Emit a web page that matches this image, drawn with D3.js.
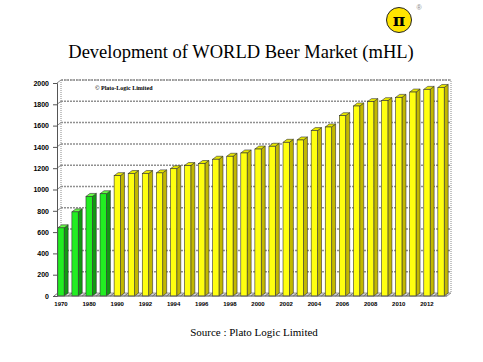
<!DOCTYPE html>
<html>
<head>
<meta charset="utf-8">
<script src="https://cdn.jsdelivr.net/npm/d3@7"></script>
<style>
  body { margin: 0; background: #fff; }
  svg { display: block; }
</style>
</head>
<body>
<svg id="chart" width="483" height="362"></svg>
<script>
// Data
const years = ["1970", "1975", "1980", "1985", "1990", "1991", "1992", "1993", "1994", "1995",
  "1996", "1997", "1998", "1999", "2000", "2001", "2002", "2003", "2004", "2005",
  "2006", "2007", "2008", "2009", "2010", "2011", "2012", "2013"];
const volumes = [640, 790, 935, 960, 1130, 1150, 1150, 1156, 1195, 1225,
  1244, 1284, 1312, 1343, 1380, 1406, 1443, 1465, 1553, 1587,
  1693, 1784, 1825, 1834, 1865, 1915, 1940, 1958];
const greenYears = ["1970", "1975", "1980", "1985"];
const yTicks = [0, 200, 400, 600, 800, 1000, 1200, 1400, 1600, 1800, 2000];
const xLabels = ["1970", "1980", "1990", "1992", "1994", "1996", "1998", "2000", "2002", "2004", "2006", "2008", "2010", "2012"];

const svg = d3.select("#chart");

// 3D depth offset
const dx = 4, dy = -3;

const x = d3.scaleBand()
    .domain(years)
    .range([55, 447])
    .paddingInner(0.55)
    .paddingOuter(0.2);

const y = d3.scaleLinear()
    .domain([0, 2000])
    .range([296, 83]);

const x0 = 57, x1 = 447;

// Back wall gridlines
const grid = svg.append("g");
grid.selectAll("line")
    .data(yTicks.slice(1))
    .enter()
    .append("line")
    .attr("x1", x0 + dx)
    .attr("x2", x1 + dx)
    .attr("y1", d => y(d) + dy)
    .attr("y2", d => y(d) + dy)
    .attr("stroke", "#909090")
    .attr("stroke-width", 1.5)
    .attr("stroke-dasharray", "2,1");

// back wall frame
grid.append("path")
    .attr("d", `M${x0 + dx},${y(0) + dy} L${x0 + dx},${y(2000) + dy} L${x1 + dx},${y(2000) + dy} L${x1 + dx},${y(0) + dy}`)
    .attr("fill", "none")
    .attr("stroke", "#8a8a8a")
    .attr("stroke-dasharray", "1,1");

// left wall gridline stubs
grid.selectAll(".stub")
    .data(yTicks)
    .enter()
    .append("line")
    .attr("x1", x0)
    .attr("x2", x0 + dx)
    .attr("y1", d => y(d))
    .attr("y2", d => y(d) + dy)
    .attr("stroke", "#8a8a8a");

// floor
svg.append("path")
    .attr("d", `M${x0},${y(0)} L${x1},${y(0)} L${x1 + dx},${y(0) + dy} L${x0 + dx},${y(0) + dy} Z`)
    .attr("fill", "#d8d8d8")
    .attr("stroke", "#8a8a8a")
    .attr("stroke-width", 0.8);

// floor category ticks
svg.append("g").selectAll("line")
    .data(years)
    .enter()
    .append("line")
    .attr("x1", d => x(d) - (x.step() - x.bandwidth()) / 2)
    .attr("x2", d => x(d) - (x.step() - x.bandwidth()) / 2 + dx)
    .attr("y1", y(0))
    .attr("y2", y(0) + dy)
    .attr("stroke", "#777");

// Bars
const colors = d => greenYears.includes(d.year)
    ? { front: "#22ee22", side: "#119911", top: "#66ff44" }
    : { front: "#ffff10", side: "#c2b800", top: "#e8e800" };

const data = years.map((yr, i) => ({ year: yr, value: volumes[i] }));
const bars = svg.append("g").selectAll("g")
    .data(data)
    .enter()
    .append("g");

const bw = x.bandwidth();
bars.append("path")
    .attr("d", d => {
        const bx = x(d.year) + bw, by = y(d.value), b0 = y(0);
        return `M${bx},${b0} L${bx},${by} L${bx + dx},${by + dy} L${bx + dx},${b0 + dy} Z`;
    })
    .attr("fill", d => colors(d).side)
    .attr("stroke", "#333")
    .attr("stroke-width", 0.6);

bars.append("path")
    .attr("d", d => {
        const bx = x(d.year), by = y(d.value);
        return `M${bx},${by} L${bx + dx},${by + dy} L${bx + bw + dx},${by + dy} L${bx + bw},${by} Z`;
    })
    .attr("fill", d => colors(d).top)
    .attr("stroke", "#333")
    .attr("stroke-width", 0.6);

bars.append("rect")
    .attr("x", d => x(d.year))
    .attr("y", d => y(d.value))
    .attr("width", bw)
    .attr("height", d => y(0) - y(d.value))
    .attr("fill", d => colors(d).front)
    .attr("stroke", "#333")
    .attr("stroke-width", 0.6);

// Y axis
svg.append("g")
    .attr("transform", `translate(${x0},0)`)
    .call(d3.axisLeft(y).tickValues(yTicks).tickSize(4).tickPadding(4).tickFormat(d3.format("d")))
    .call(g => g.select(".domain").attr("stroke", "#555"))
    .call(g => g.selectAll(".tick line").attr("stroke", "#555"))
    .call(g => g.selectAll("text")
        .attr("font-family", "Arial, 'Liberation Sans', sans-serif")
        .attr("font-weight", "bold")
        .attr("font-size", 7)
        .attr("fill", "#000"));

// X axis labels
svg.append("g")
    .selectAll("text")
    .data(xLabels)
    .enter()
    .append("text")
    .attr("x", d => x(d) + bw / 2)
    .attr("y", 306)
    .attr("text-anchor", "middle")
    .attr("font-family", "Arial, 'Liberation Sans', sans-serif")
    .attr("font-weight", "bold")
    .attr("font-size", 6)
    .text(d => d);

// front edge of floor
svg.append("line")
    .attr("x1", x0).attr("x2", x1)
    .attr("y1", y(0)).attr("y2", y(0))
    .attr("stroke", "#666")
    .attr("stroke-width", 0.8);

// Title
svg.append("text")
    .attr("x", 241)
    .attr("y", 58)
    .attr("text-anchor", "middle")
    .attr("font-family", "'Liberation Serif', 'Times New Roman', serif")
    .attr("font-size", 18.5)
    .text("Development of WORLD Beer Market (mHL)");

// Copyright note
svg.append("text")
    .attr("x", 95)
    .attr("y", 90)
    .attr("font-family", "'Liberation Serif', serif")
    .attr("font-weight", "bold")
    .attr("font-size", 6)
    .text("© Plato-Logic Limited");

// Source
svg.append("text")
    .attr("x", 254)
    .attr("y", 336)
    .attr("text-anchor", "middle")
    .attr("font-family", "'Liberation Serif', 'Times New Roman', serif")
    .attr("font-size", 11)
    .text("Source : Plato Logic Limited");

// Logo
const logo = svg.append("g").attr("transform", "translate(399,20)");
logo.append("circle")
    .attr("r", 12.5)
    .attr("fill", "#ffe400")
    .attr("stroke", "#222")
    .attr("stroke-width", 1);
logo.append("text")
    .attr("y", 6)
    .attr("text-anchor", "middle")
    .attr("font-family", "'DejaVu Serif', serif")
    .attr("font-weight", "bold")
    .attr("font-size", 17)
    .text("π");
svg.append("text")
    .attr("x", 419)
    .attr("y", 10)
    .attr("text-anchor", "middle")
    .attr("font-family", "Arial, sans-serif")
    .attr("font-size", 7)
    .attr("fill", "#888")
    .text("®");
</script>
</body>
</html>
